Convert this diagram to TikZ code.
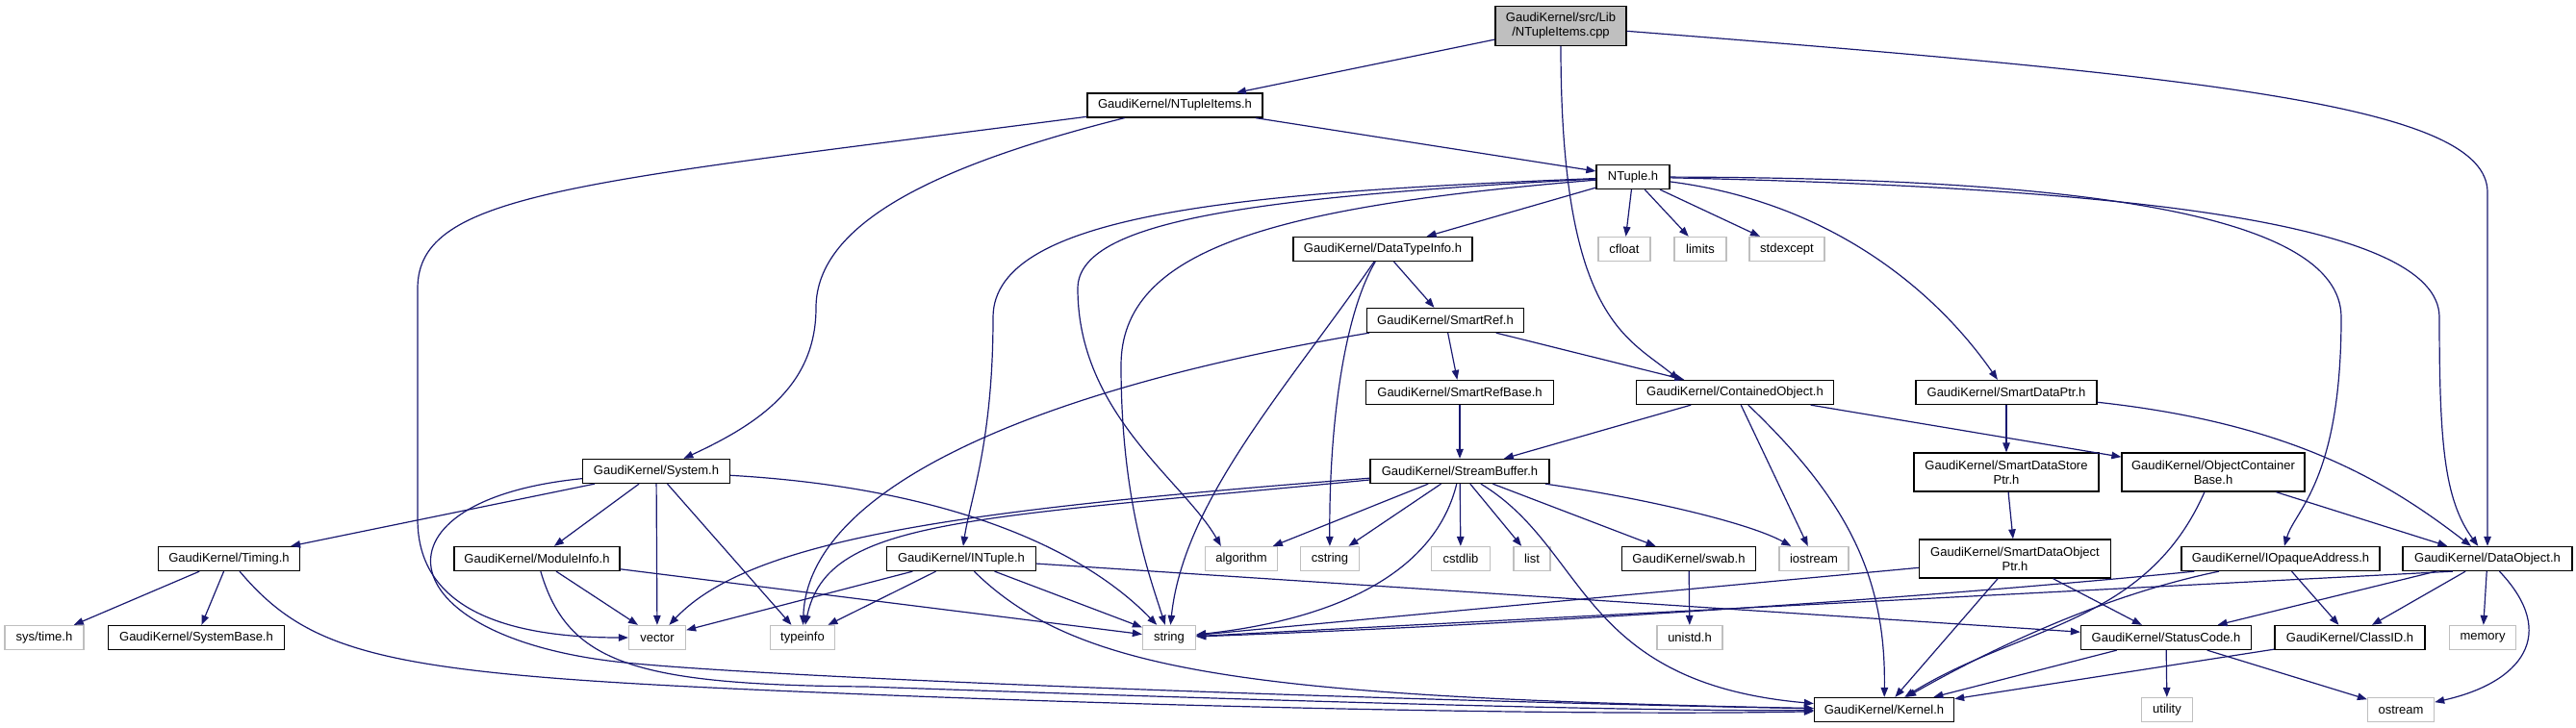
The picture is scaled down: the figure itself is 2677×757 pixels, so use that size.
\documentclass[tikz,border=0pt]{standalone}
\usepackage{fontspec}
\setmainfont{Liberation Sans}
\usepackage{tikz}
\usetikzlibrary{arrows.meta,shapes,calc,positioning}
\definecolor{edgeblue}{RGB}{25,25,112}
\definecolor{boxgray}{RGB}{191,191,191}
\tikzstyle{edge}=[draw,-{Triangle[length=10pt,width=7.5pt]},edgeblue,line width=1.2pt]
\tikzstyle{block} =
  [rectangle, draw=black, line width=1.3pt, fill=white, text centered,
   minimum height=25pt, inner xsep=1pt, inner ysep=1pt,
   font=\fontsize{13}{15}\selectfont]
\tikzstyle{twoline} = [block, align=center, minimum height=40pt]
\tikzstyle{stdhdr} = [block, draw=boxgray]
\tikzstyle{rootfile} = [twoline, fill=boxgray, minimum height=41pt]

\begin{document}
\begin{tikzpicture}[x=1pt,y=-1pt]
  \useasboundingbox (0,0) rectangle (2677,757);

  \node [rootfile, minimum width=136pt] (root) at (1622,27)
    {GaudiKernel/src/Lib\\/NTupleItems.cpp};
  \node [block, minimum width=182pt] (ntitems) at (1221,109.5) {GaudiKernel/NTupleItems.h};
  \node [block, minimum width=76pt] (ntuple) at (1697,184) {NTuple.h};

  \node [block, minimum width=186pt] (dtinfo) at (1437,259) {GaudiKernel/DataTypeInfo.h};
  \node [stdhdr, minimum width=54pt] (cfloat) at (1688,259) {cfloat};
  \node [stdhdr, minimum width=54pt] (limits) at (1767,259) {limits};
  \node [stdhdr, minimum width=78pt] (stdexcept) at (1857,259) {stdexcept};
  \node [block, minimum width=163pt] (smartref) at (1502,333) {GaudiKernel/SmartRef.h};

  \node [block, minimum width=195pt] (smartrefbase) at (1517,408) {GaudiKernel/SmartRefBase.h};
  \node [block, minimum width=205pt] (contained) at (1803,408) {GaudiKernel/ContainedObject.h};
  \node [block, minimum width=188pt] (smartdataptr) at (2085,408) {GaudiKernel/SmartDataPtr.h};

  \node [block, minimum width=153pt] (system) at (682,490) {GaudiKernel/System.h};
  \node [block, minimum width=186pt] (streambuf) at (1517,490) {GaudiKernel/StreamBuffer.h};
  \node [twoline, minimum width=192pt] (sdstoreptr) at (2085,491)
    {GaudiKernel/SmartDataStore\\Ptr.h};
  \node [twoline, minimum width=190pt] (objcont) at (2300,491)
    {GaudiKernel/ObjectContainer\\Base.h};

  \node [block, minimum width=147pt] (timing) at (238,581) {GaudiKernel/Timing.h};
  \node [block, minimum width=172pt] (moduleinfo) at (558,581) {GaudiKernel/ModuleInfo.h};
  \node [block, minimum width=155pt] (intuple) at (999,581) {GaudiKernel/INTuple.h};
  \node [stdhdr, minimum width=75pt] (algorithm) at (1290,581) {algorithm};
  \node [stdhdr, minimum width=61pt] (cstring) at (1382,581) {cstring};
  \node [stdhdr, minimum width=61pt] (cstdlib) at (1518,581) {cstdlib};
  \node [stdhdr, minimum width=38pt] (list) at (1592,581) {list};
  \node [block, minimum width=139pt] (swab) at (1755,581) {GaudiKernel/swab.h};
  \node [stdhdr, minimum width=72pt] (iostream) at (1885,581) {iostream};
  \node [twoline, minimum width=199pt] (sdobjptr) at (2094,581)
    {GaudiKernel/SmartDataObject\\Ptr.h};
  \node [block, minimum width=206pt] (iopaque) at (2370,581) {GaudiKernel/IOpaqueAddress.h};
  \node [block, minimum width=176pt] (dataobject) at (2585,581) {GaudiKernel/DataObject.h};

  \node [stdhdr, minimum width=82pt] (systime) at (46,663) {sys/time.h};
  \node [block, minimum width=183pt] (systembase) at (204,663) {GaudiKernel/SystemBase.h};
  \node [stdhdr, minimum width=59pt] (vector) at (683,663) {vector};
  \node [stdhdr, minimum width=67pt] (typeinfo) at (834,663) {typeinfo};
  \node [stdhdr, minimum width=55pt] (string) at (1215,663) {string};
  \node [stdhdr, minimum width=68pt] (unistd) at (1756,663) {unistd.h};
  \node [block, minimum width=177pt] (statuscode) at (2251,663) {GaudiKernel/StatusCode.h};
  \node [block, minimum width=156pt] (classid) at (2442,663) {GaudiKernel/ClassID.h};
  \node [stdhdr, minimum width=69pt] (memory) at (2580,663) {memory};

  \node [block, minimum width=145pt] (kernel) at (1958,738) {GaudiKernel/Kernel.h};
  \node [stdhdr, minimum width=53pt] (utility) at (2252,738) {utility};
  \node [stdhdr, minimum width=69pt] (ostream) at (2495,738) {ostream};

  % the source file
  \draw [edge] (root) -- (ntitems);
  \draw [edge] (root) .. controls (1622,330) and (1690,350) .. ([xshift=45pt]contained.north west);
  \draw [edge] (root) .. controls (2300,80) and (2585,110) .. (2585,200) -- (dataobject);

  \draw [edge] (ntitems) -- (ntuple);
  \draw [edge] (ntitems) .. controls (600,190) and (434,200) .. (434,300) -- (434,540)
    .. controls (434,630) and (520,663) .. (vector);
  \draw [edge] (ntitems) .. controls (980,170) and (848,230) .. (848,320)
    .. controls (848,400) and (790,440) .. (system);

  % NTuple.h
  \draw [edge] (ntuple) -- (dtinfo);
  \draw [edge] (ntuple) -- (cfloat);
  \draw [edge] (ntuple) -- (limits);
  \draw [edge] (ntuple) -- (stdexcept);
  \draw [edge] (ntuple) .. controls (1900,210) and (2010,300) .. (smartdataptr);
  \draw [edge] (ntuple) .. controls (2150,185) and (2433,220) .. (2433,330)
    .. controls (2433,500) and (2385,530) .. (iopaque);
  \draw [edge] (ntuple) .. controls (2200,195) and (2535,230) .. (2535,330)
    .. controls (2535,460) and (2540,520) .. (dataobject);
  \draw [edge] (ntuple) .. controls (1300,200) and (1032,220) .. (1032,330)
    .. controls (1032,460) and (1008,520) .. (intuple);
  \draw [edge] (ntuple) .. controls (1300,205) and (1120,230) .. (1120,300)
    .. controls (1120,430) and (1230,500) .. ([xshift=17pt]algorithm.north west);
  \draw [edge] (ntuple) .. controls (1320,215) and (1165,260) .. (1165,380)
    .. controls (1165,520) and (1195,600) .. (string);

  \draw [edge] (dtinfo) -- (smartref);
  \draw [edge] (dtinfo) .. controls (1395,330) and (1381,450) .. (cstring);
  \draw [edge] (dtinfo) .. controls (1340,400) and (1230,520) .. (string);

  \draw [edge] (smartref) -- (smartrefbase);
  \draw [edge] (smartref) -- (contained);
  \draw [edge] (smartref) .. controls (1100,400) and (840,500) .. (typeinfo);
  \draw [edge] (smartrefbase) -- (streambuf);

  \draw [edge] (contained) -- (streambuf);
  \draw [edge] (contained) -- (iostream);
  \draw [edge] (contained) .. controls (1920,520) and (1960,600) .. (kernel);
  \draw [edge] (contained) -- (objcont);

  \draw [edge] (smartdataptr) -- (sdstoreptr);
  \draw [edge] (smartdataptr) .. controls (2380,440) and (2480,500) .. (dataobject);
  \draw [edge] (sdstoreptr) -- (sdobjptr);
  \draw [edge] (objcont) .. controls (2230,650) and (2100,650) .. (kernel);
  \draw [edge] (objcont) -- (dataobject);

  % StreamBuffer.h
  \draw [edge] (streambuf) -- (algorithm);
  \draw [edge] (streambuf) -- (cstring);
  \draw [edge] (streambuf) .. controls (1490,600) and (1380,645) .. (string);
  \draw [edge] (streambuf) -- (cstdlib);
  \draw [edge] (streambuf) -- (list);
  \draw [edge] (streambuf) .. controls (1650,570) and (1640,710) .. (kernel);
  \draw [edge] (streambuf) -- (swab);
  \draw [edge] (streambuf) .. controls (1720,520) and (1820,545) .. (iostream);
  \draw [edge] (streambuf) .. controls (1000,530) and (780,560) .. (vector);
  \draw [edge] (streambuf) .. controls (1000,540) and (860,540) .. (typeinfo);
  \draw [edge] (swab) -- (unistd);

  % System.h and friends
  \draw [edge] (system) -- (timing);
  \draw [edge] (system) -- (moduleinfo);
  \draw [edge] (system) -- (vector);
  \draw [edge] (system) -- (typeinfo);
  \draw [edge] (system) .. controls (950,505) and (1110,555) .. (string);
  \draw [edge] (system) .. controls (380,520) and (400,660) .. (640,688)
    .. controls (800,706) and (1500,730) .. (kernel);

  \draw [edge] (timing) -- (systime);
  \draw [edge] (timing) -- (systembase);
  \draw [edge] (timing) .. controls (330,690) and (420,703) .. (900,722)
    .. controls (1300,738) and (1700,744) .. (kernel);

  \draw [edge] (moduleinfo) -- (vector);
  \draw [edge] (moduleinfo) -- (string);
  \draw [edge] (moduleinfo) .. controls (590,690) and (660,712) .. (900,714)
    .. controls (1300,728) and (1700,740) .. (kernel);

  \draw [edge] (intuple) -- (string);
  \draw [edge] (intuple) .. controls (1120,700) and (1300,725) .. (kernel);
  \draw [edge] (intuple) -- (statuscode);
  \draw [edge] (intuple) -- (vector);
  \draw [edge] (intuple) -- (typeinfo);

  % right hand side
  \draw [edge] (sdobjptr) -- (string);
  \draw [edge] (sdobjptr) -- (kernel);
  \draw [edge] (sdobjptr) -- (statuscode);

  \draw [edge] ([xshift=14pt]iopaque.south west) .. controls (2100,612) and (1700,645) .. (string);
  \draw [edge] (iopaque) .. controls (2180,620) and (2060,680) .. (kernel);
  \draw [edge] (iopaque) -- (classid);

  \draw [edge] (dataobject.-160) -- (string);
  \draw [edge] (dataobject) -- (statuscode);
  \draw [edge] (dataobject) -- (classid);
  \draw [edge] (dataobject) -- (memory);
  \draw [edge] (dataobject) .. controls (2660,660) and (2620,710) .. (ostream);

  \draw [edge] (statuscode) -- (kernel);
  \draw [edge] (statuscode) -- (utility);
  \draw [edge] (statuscode) -- (ostream);
  \draw [edge] (classid) -- (kernel);
\end{tikzpicture}
\end{document}
